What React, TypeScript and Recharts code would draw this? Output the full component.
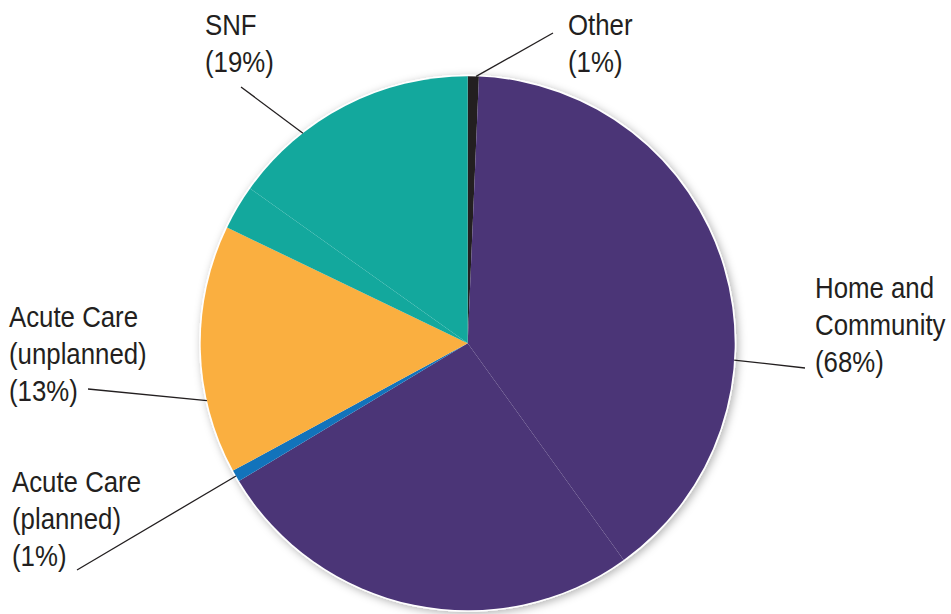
import React from 'react'
import { PieChart, Pie, Cell } from 'recharts'

// slices clockwise from 12 o'clock, values in percent of the circle
const sliceGroups = ['Other', 'Home and Community', 'Home and Community', 'Acute Care (planned)', 'Acute Care (unplanned)', 'SNF', 'SNF']
const sliceValues = [0.67, 39.4, 26.3, 0.72, 15.05, 2.7, 15.16]

const groupNames = ['Other', 'Home and Community', 'Acute Care (planned)', 'Acute Care (unplanned)', 'SNF']
const groupPercents = [1, 68, 1, 13, 19]
const groupLines = [['Other'], ['Home and', 'Community'], ['Acute Care', '(planned)'], ['Acute Care', '(unplanned)'], ['SNF']]

const COLORS: Record<string, string> = {
  'Other': '#231f20',
  'Home and Community': '#4b3577',
  'Acute Care (planned)': '#1273bb',
  'Acute Care (unplanned)': '#faaf40',
  'SNF': '#13a89d',
}

// label placement: edge angle (deg clockwise from top), leader end, text origin
const LAYOUT: Record<string, { angle: number; end: [number, number]; x: number; y: number }> = {
  'Other':                  { angle: 1.8,   end: [553, 33],  x: 568, y: 35 },
  'Home and Community':     { angle: 93.6,  end: [805, 368], x: 815, y: 298 },
  'Acute Care (planned)':   { angle: 240.2, end: [77, 570],  x: 12,  y: 492 },
  'Acute Care (unplanned)': { angle: 257.6, end: [88, 389],  x: 9,   y: 327 },
  'SNF':                    { angle: 321.9, end: [241, 87],  x: 205, y: 35 },
}

const data = sliceValues.map((value, i) => ({ name: sliceGroups[i], value }))

const FONT = '"Liberation Sans", Arial, sans-serif'
const INK = '#231f20'

function renderLabel(props: any) {
  const { cx, cy, outerRadius, index } = props
  const name = sliceGroups[index]
  if (sliceGroups.indexOf(name) !== index) return null
  const g = groupNames.indexOf(name)
  const l = LAYOUT[name]
  const rad = (l.angle * Math.PI) / 180
  const px = cx + outerRadius * Math.sin(rad)
  const py = cy - outerRadius * Math.cos(rad)
  const lines = [...groupLines[g], `(${groupPercents[g]}%)`]
  return (
    <g key={`lbl-${name}`}>
      <line x1={px} y1={py} x2={l.end[0]} y2={l.end[1]} stroke={INK} strokeWidth={1.3} />
      {/* condensed look: squeeze the text horizontally */}
      <text transform={`translate(${l.x},${l.y}) scale(0.89,1)`} fill={INK} fontFamily={FONT} fontSize={29} textAnchor="start">
        {lines.map((t, i) => (
          <tspan key={i} x={0} y={i * 37}>{t}</tspan>
        ))}
      </text>
    </g>
  )
}

export default function App() {
  return (
    <div style={{ position: 'absolute', left: 0, top: 0, width: 951, height: 614, background: '#fff' }}>
      <PieChart width={951} height={614} margin={{ top: 0, right: 0, bottom: 0, left: 0 }}>
        <defs>
          <filter id="pieShadow" x="-10%" y="-10%" width="120%" height="120%">
            <feDropShadow dx={2} dy={2} stdDeviation={4} floodColor="#000" floodOpacity={0.3} />
          </filter>
        </defs>
        <Pie
          data={[{ value: 1 }]}
          dataKey="value"
          cx={467.7}
          cy={343.3}
          outerRadius={268.5}
          startAngle={90}
          endAngle={-270}
          stroke="none"
          isAnimationActive={false}
        >
          <Cell fill="#fff" filter="url(#pieShadow)" />
        </Pie>
        <Pie
          data={data}
          dataKey="value"
          cx={467.7}
          cy={343.3}
          outerRadius={267}
          startAngle={90}
          endAngle={-270}
          stroke="none"
          labelLine={false}
          label={renderLabel}
          isAnimationActive={false}
        >
          {data.map((d, i) => (
            <Cell key={i} fill={COLORS[d.name]} />
          ))}
        </Pie>
      </PieChart>
    </div>
  )
}
